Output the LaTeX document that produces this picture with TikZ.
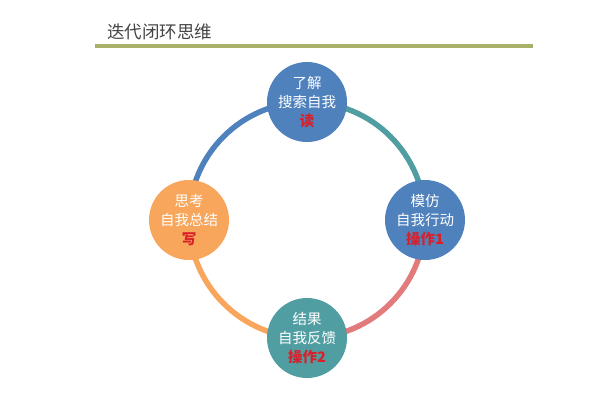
\documentclass[tikz,border=0pt]{standalone}
\usepackage{fontspec}
\setmainfont{Noto Sans CJK SC}
\definecolor{cblue}{HTML}{4F81BD}
\definecolor{cteal}{HTML}{519EA2}
\definecolor{corange}{HTML}{F7A65B}
\definecolor{cpink}{HTML}{E27C7C}
\definecolor{cred}{HTML}{D8202A}
\definecolor{colive}{HTML}{A8B06A}
\definecolor{ctitle}{HTML}{444444}
\tikzset{
  stage/.style={circle, minimum size=80pt, inner sep=0pt, text=white,
    font=\fontsize{14.5}{19}\selectfont, align=center},
  ringarc/.style={line width=5.5pt}
}
\begin{document}
\begin{tikzpicture}[x=1pt,y=-1pt]
\useasboundingbox (0,0) rectangle (602,402);
% title
\node[anchor=west, text=ctitle, font=\fontsize{17.5}{20}\selectfont, inner sep=0pt] (title) at (107,32) {迭代闭环思维};
\coordinate (rl) at (95,45.5);
\coordinate (rr) at (533,45.5);
\draw[colive, line width=4pt] (rl) -- (rr);
% ring positions
\coordinate (pt) at (307,102);
\coordinate (pr) at (425,220);
\coordinate (pb) at (307,338);
\coordinate (pl) at (189,220);
% arcs
\draw[ringarc, cblue] (pl) arc[start angle=180, end angle=270, radius=118];
\draw[ringarc, cteal] (pt) arc[start angle=270, end angle=360, radius=118];
\draw[ringarc, cpink] (pr) arc[start angle=0, end angle=90, radius=118];
\draw[ringarc, corange] (pb) arc[start angle=90, end angle=180, radius=118];
% nodes
\node[stage, fill=cblue] (top) at (pt) {了解\\搜索自我\\{\color{cred}\bfseries 读}};
\node[stage, fill=cblue] (right) at (pr) {模仿\\自我行动\\{\color{cred}\bfseries 操作1}};
\node[stage, fill=cteal] (bottom) at (pb) {结果\\自我反馈\\{\color{cred}\bfseries 操作2}};
\node[stage, fill=corange] (left) at (pl) {思考\\自我总结\\{\color{cred}\bfseries 写}};
\end{tikzpicture}
\end{document}
